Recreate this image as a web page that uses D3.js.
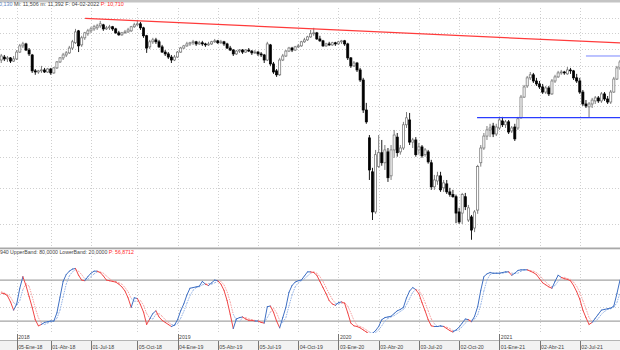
<!DOCTYPE html>
<html>
<head>
<meta charset="utf-8">
<script src="https://cdn.jsdelivr.net/npm/d3@7"></script>
<style>
body { margin: 0; background: #fff; }
svg { display: block; font-family: "Liberation Sans", Arial, sans-serif; }
</style>
</head>
<body>
<svg id="chart" width="620" height="350"></svg>
<script>
// weekly candles, first one is 5 weeks before 05-Ene-18
const opens = [11.35,11.52,11.41,11.47,11.29, 11.41,11.81,12.18,12.30,11.93, 11.64,10.75,10.69,10.75,10.80, 10.69,10.85,10.64,10.91,11.24,
  11.47,11.64,11.76,12.05,12.37, 13.13,12.24,12.68,12.94,13.13, 13.26,13.33,13.46,13.53,13.26, 13.33,13.40,13.26,13.00,12.87,
  13.00,13.06,13.13,13.40,13.53, 13.60,13.33,12.81,12.12,12.43, 12.55,12.43,12.12,11.81,11.70, 11.52,11.35,11.52,11.81,12.05,
  12.18,12.30,12.37,12.43,12.30, 12.37,12.30,12.24,12.30,12.43, 12.49,12.37,12.43,12.30,12.05, 11.93,11.70,11.87,11.93,11.81,
  11.93,11.87,11.76,11.81,11.70, 11.64,11.35,12.24,11.13,10.75, 10.54,11.35,11.58,11.87,12.05, 11.93,12.12,12.18,12.43,12.55,
  12.74,12.94,13.00,12.61,12.49, 12.18,12.30,12.24,12.37,12.30, 12.43,12.49,12.30,11.47,11.02, 11.18,10.80,10.27,8.84,7.69,
  6.49,5.31,6.66,7.14,6.79, 7.17,6.36,7.24,7.72,7.17, 7.31,8.21,8.41,7.53,7.61, 7.24,7.35,7.07,7.17,6.79,
  6.02,6.20,6.36,5.99,6.11, 5.87,5.79,5.73,5.31,5.28, 5.73,5.10,5.18,4.90,5.36, 6.79,7.31,7.76,8.00,8.16,
  7.84,8.08,8.37,8.21,8.33, 7.96,8.12,8.08,8.50,9.43, 9.97,10.38,10.54,10.22,10.07, 9.92,9.67,9.87,9.58,10.22,
  10.43,10.64,10.69,10.59,10.80, 10.75,10.38,10.22,9.67,9.11, 8.98,9.11,9.25,9.39,9.25, 9.58,9.34,9.20,9.67,10.32,
  10.91];
const highs = [11.70,11.64,11.58,11.52,11.58, 11.93,12.30,12.43,12.37,12.05, 11.70,10.85,10.80,11.02,10.91, 10.91,10.91,10.96,11.29,11.52,
  11.76,11.87,12.18,12.55,13.26, 13.19,12.81,13.06,13.26,13.40, 13.53,13.60,13.80,13.60,13.46, 13.53,13.46,13.33,13.13,13.06,
  13.19,13.33,13.46,13.67,13.87, 13.73,13.40,12.87,12.55,12.68, 12.68,12.55,12.24,11.93,11.81, 11.64,11.64,11.87,12.12,12.24,
  12.43,12.43,12.55,12.49,12.49, 12.49,12.37,12.43,12.49,12.61, 12.55,12.55,12.49,12.37,12.18, 11.99,11.93,11.99,11.99,11.99,
  12.05,11.93,11.93,11.87,11.81, 11.70,12.43,12.30,11.24,10.85, 11.47,11.70,11.93,12.12,12.12, 12.18,12.30,12.49,12.68,12.81,
  13.19,13.33,13.06,12.81,12.55, 12.37,12.43,12.43,12.43,12.49, 12.55,12.55,12.37,11.52,11.29, 11.24,10.91,10.38,9.16,7.80,
  6.62,7.24,7.80,7.61,7.42, 7.31,7.42,8.00,7.88,7.42, 8.33,8.75,8.71,7.69,7.72, 7.50,7.42,7.31,7.24,6.89,
  6.39,6.49,6.49,6.23,6.23, 5.99,5.93,5.79,5.42,5.84, 5.84,5.50,5.23,5.36,6.72, 7.42,7.88,8.16,8.25,8.29,
  8.25,8.54,8.54,8.41,8.41, 8.16,8.25,8.54,9.53,10.02, 10.48,10.69,10.64,10.38,10.22, 10.07,9.97,9.97,10.32,10.54,
  10.75,10.80,10.75,10.96,10.91, 10.80,10.59,10.38,9.77,9.29, 9.20,9.39,9.48,9.48,9.67, 9.67,9.48,9.77,10.43,11.02,
  11.35];
const lows = [11.18,11.29,11.24,11.18,11.24, 11.35,11.76,12.05,11.87,11.58, 10.64,10.54,10.59,10.64,10.64, 10.64,10.54,10.59,10.85,11.18,
  11.35,11.52,11.70,11.93,12.30, 11.81,12.12,12.55,12.81,13.00, 13.13,13.19,13.33,13.13,13.19, 13.19,13.13,12.94,12.81,12.81,
  12.94,13.00,13.06,13.33,13.46, 13.19,12.68,11.76,11.99,12.30, 12.30,12.05,11.76,11.58,11.41, 11.18,11.29,11.47,11.76,11.99,
  12.12,12.18,12.24,12.18,12.24, 12.18,12.12,12.18,12.24,12.37, 12.30,12.30,12.18,11.99,11.87, 11.58,11.64,11.76,11.70,11.76,
  11.81,11.64,11.70,11.58,11.52, 11.18,11.29,11.02,10.59,10.43, 10.48,11.29,11.52,11.81,11.81, 11.87,12.05,12.12,12.37,12.49,
  12.68,12.81,12.55,12.43,12.12, 12.12,12.18,12.18,12.18,12.24, 12.30,12.18,11.35,10.91,10.96, 10.69,10.17,8.71,8.25,6.23,
  5.10,5.26,6.62,6.69,6.55, 6.17,6.23,6.96,7.00,7.07, 7.24,8.08,7.42,7.31,7.00, 7.07,6.96,7.00,6.76,5.93,
  5.93,6.08,5.87,5.87,5.81, 5.73,5.70,5.02,5.00,5.00, 5.36,5.05,4.62,4.80,5.26, 6.66,7.24,7.61,7.72,7.72,
  7.76,8.00,8.12,8.08,7.84, 7.88,7.57,8.00,8.46,9.39, 9.87,10.27,10.12,9.97,9.82, 9.58,9.58,9.48,9.53,10.12,
  10.38,10.54,10.54,10.54,10.59, 10.27,10.12,9.58,9.02,8.93, 8.50,8.93,9.11,9.16,9.16, 9.25,9.11,9.11,9.63,10.27,
  10.80];
const closes = [11.58,11.41,11.47,11.29,11.41, 11.81,12.18,12.30,11.93,11.70, 10.75,10.69,10.75,10.80,10.69, 10.85,10.64,10.91,11.24,11.47,
  11.64,11.76,12.05,12.43,13.06, 12.18,12.68,13.00,13.13,13.26, 13.40,13.46,13.60,13.26,13.33, 13.40,13.26,13.00,12.87,13.00,
  13.06,13.19,13.40,13.53,13.60, 13.33,12.81,12.05,12.43,12.55, 12.43,12.12,11.81,11.70,11.52, 11.35,11.52,11.81,12.05,12.18,
  12.30,12.37,12.43,12.30,12.37, 12.30,12.24,12.30,12.43,12.49, 12.37,12.43,12.30,12.05,11.93, 11.70,11.87,11.93,11.81,11.93,
  11.87,11.76,11.81,11.70,11.64, 11.35,12.30,11.13,10.69,10.54, 11.35,11.58,11.87,12.05,11.93, 12.12,12.18,12.43,12.55,12.74,
  12.94,13.00,12.61,12.49,12.18, 12.30,12.24,12.37,12.30,12.43, 12.49,12.30,11.47,11.02,11.18, 10.80,10.27,8.84,8.33,6.55,
  5.31,7.07,7.14,6.79,7.24, 6.30,7.24,7.80,7.14,7.31, 8.21,8.50,7.53,7.61,7.07, 7.35,7.03,7.24,6.82,6.02,
  6.23,6.36,5.93,6.14,5.87, 5.79,5.73,5.28,5.05,5.79, 5.45,5.42,4.85,5.31,6.66, 7.31,7.76,8.00,8.08,7.84,
  8.12,8.41,8.21,8.33,7.92, 8.08,7.65,8.46,9.43,9.92, 10.38,10.54,10.22,10.07,9.92, 9.67,9.87,9.58,10.22,10.43,
  10.64,10.69,10.64,10.80,10.75, 10.38,10.22,9.67,9.11,9.02, 9.11,9.29,9.39,9.25,9.58, 9.34,9.20,9.67,10.32,10.91,
  11.24];

// stochastic %K and %D, one value per candle
const stochK = [61,60,57,48,36, 45,68,85,72,56, 40,22,13,15,18, 19,20,20,32,55, 78,88,93,96,97, 87,80,79,85,90,
  93,93,91,86,80, 79,78,77,74,70, 64,54,40,54,53, 44,33,15,23,31, 35,26,21,18,15, 12,14,22,35,45,
  58,68,69,70,71, 78,74,72,76,80, 79,74,65,50,30, 9,23,25,26,23, 21,21,20,20,18, 17,41,42,33,20,
  10,25,40,62,72, 77,79,80,86,92, 92,91,87,78,69, 60,50,45,43,47, 48,46,32,17,13, 12,10,7,4,1,
  2,6,12,22,25, 26,27,31,35,37, 40,54,64,69,66, 60,47,35,22,13, 12,12,13,12,9, 6,4,7,11,17,
  23,22,19,27,41, 65,85,89,91,90, 90,90,91,92,92, 87,90,94,95,95, 95,93,91,88,82, 76,73,70,68,78,
  87,84,82,81,79, 72,63,52,36,25, 15,18,24,30,36, 37,38,39,42,60, 80];
const stochD = [63,61,59,55,47, 43,50,66,75,71, 56,39,25,17,15, 17,19,20,24,36, 55,74,86,92,95, 93,88,82,81,85,
  89,92,92,90,86, 82,79,78,76,74, 69,63,53,49,49, 50,43,31,24,23, 30,31,27,22,18, 15,14,16,24,34,
  46,57,65,69,70, 73,74,75,74,76, 78,78,73,63,48, 30,21,19,25,25, 23,22,21,20,19, 18,25,33,39,32,
  21,18,25,42,58, 70,76,79,82,86, 90,92,90,85,78, 69,60,52,46,45, 46,47,42,32,21, 14,12,10,7,4,
  2,3,7,13,20, 24,26,28,31,34, 37,44,53,62,66, 65,58,47,35,23, 16,12,12,12,11, 9,6,6,7,12,
  17,21,21,23,29, 44,64,80,88,90, 90,90,90,91,92, 90,90,90,93,95, 95,94,93,91,87, 82,77,73,70,72,
  78,83,84,82,81, 77,71,62,50,38, 25,19,19,24,30, 34,37,38,40,47, 61];

// axis
const tickIdx = [5,16,29,44,57,70,83,96,109,122,135,148,161,174,187];
const tickLabels = ["05-Ene-18","01-Abr-18","01-Jul-18","05-Oct-18","04-Ene-19","05-Abr-19","05-Jul-19","04-Oct-19",
  "03-Ene-20","03-Abr-20","03-Jul-20","02-Oct-20","01-Ene-21","02-Abr-21","02-Jul-21"];
const yearIdx = [5,57,109,161];
const yearLabels = ["2018","2019","2020","2021"];
const gridPrices = [5,6,7,8,9,10,11,12,13,14];
const stochBands = [20,80];
const stochGrid = [40,60];

// drawn lines: [candle index, price]
const redTrend = [[27.1,13.98],[200,12.36]];
const blueSupport = [[153.8,8.51],[200,8.51]];
const blueTop = [[189,11.58],[200,11.58]];

const svg = d3.select('#chart');
const x = d3.scaleLinear().domain([-0.4, 200]).range([0, 620]);
const y = d3.scaleLog().domain([4.434, 14.72]).range([248, 8]);
const ys = d3.scaleLinear().domain([0, 100]).range([334.7, 266.4]);

const defs = svg.append('defs');
defs.append('clipPath').attr('id', 'clipMain')
    .append('rect').attr('x', 0).attr('y', 8).attr('width', 620).attr('height', 239);
defs.append('clipPath').attr('id', 'clipStoch')
    .append('rect').attr('x', 0).attr('y', 255).attr('width', 620).attr('height', 78);

// header
svg.append('rect').attr('x', 0).attr('y', 0).attr('width', 620).attr('height', 2.5).attr('fill', '#c4c4c4');
const head = svg.append('text').attr('x', -1).attr('y', 6.4).style('font-size', '5.4px').attr('fill', '#444');
head.append('tspan').attr('fill', '#5b7fc0').text('0,130 ');
head.append('tspan').text('Mi: 11,506 m: 11,392 F: 04-02-2022 ');
head.append('tspan').attr('fill', '#ff2a2a').text('P: 10,710');

// main grid
const gMain = svg.append('g');
gMain.selectAll('.hgrid')
    .data(gridPrices)
    .enter()
    .append('line')
    .attr('x1', 0).attr('x2', 620)
    .attr('y1', d => Math.round(y(d)) + 0.5).attr('y2', d => Math.round(y(d)) + 0.5)
    .attr('stroke', '#cfcfcf').attr('stroke-dasharray', '1,2');
gMain.selectAll('.vgrid')
    .data(tickIdx)
    .enter()
    .append('line')
    .attr('x1', d => Math.round(x(d)) + 0.5).attr('x2', d => Math.round(x(d)) + 0.5)
    .attr('y1', 8).attr('y2', 247)
    .attr('stroke', '#cfcfcf').attr('stroke-dasharray', '1,2');

// candles
const candles = opens.map((o, j) => ({ j: j, o: o, h: highs[j], l: lows[j], c: closes[j] }));
const gc = svg.append('g').attr('clip-path', 'url(#clipMain)');
gc.selectAll('.wick')
    .data(candles)
    .enter()
    .append('line')
    .attr('x1', d => x(d.j)).attr('x2', d => x(d.j))
    .attr('y1', d => y(d.h)).attr('y2', d => y(d.l))
    .attr('stroke', d => d.c >= d.o ? '#6e6e6e' : '#000')
    .attr('stroke-width', 0.9);
gc.selectAll('.body')
    .data(candles)
    .enter()
    .append('rect')
    .attr('x', d => x(d.j) - 1.05)
    .attr('width', 2.1)
    .attr('y', d => y(Math.max(d.o, d.c)))
    .attr('height', d => Math.max(0.8, Math.abs(y(d.o) - y(d.c))))
    .attr('fill', d => d.c >= d.o ? '#fff' : '#000')
    .attr('stroke', d => d.c >= d.o ? '#6e6e6e' : '#000')
    .attr('stroke-width', 0.7);

// trend lines
const priceLine = d3.line().x(d => x(d[0])).y(d => y(d[1]));
gc.append('path').attr('d', priceLine(redTrend)).attr('fill', 'none').attr('stroke', '#ff3b3b').attr('stroke-width', 1.3);
gc.append('path').attr('d', priceLine(blueSupport)).attr('fill', 'none').attr('stroke', '#2a3cff').attr('stroke-width', 1.4);
gc.append('path').attr('d', priceLine(blueTop)).attr('fill', 'none').attr('stroke', '#7a86ff').attr('stroke-width', 1);

// separator + indicator title
svg.append('rect').attr('x', 0).attr('y', 247.5).attr('width', 620).attr('height', 1.8).attr('fill', '#a8a8a8');
const st = svg.append('text').attr('x', 0).attr('y', 254).style('font-size', '5.2px').attr('fill', '#444');
st.append('tspan').text('940 UpperBand: 80,0000 LowerBand: 20,0000 ');
st.append('tspan').attr('fill', '#ff2a2a').text('P: 56,8712');

// stochastic panel
const gs = svg.append('g');
gs.selectAll('.sgrid')
    .data(stochGrid)
    .enter()
    .append('line')
    .attr('x1', 0).attr('x2', 620)
    .attr('y1', d => Math.round(ys(d)) + 0.5).attr('y2', d => Math.round(ys(d)) + 0.5)
    .attr('stroke', '#cfcfcf').attr('stroke-dasharray', '1,2');
gs.selectAll('.svgrid')
    .data(tickIdx)
    .enter()
    .append('line')
    .attr('x1', d => Math.round(x(d)) + 0.5).attr('x2', d => Math.round(x(d)) + 0.5)
    .attr('y1', 256).attr('y2', 333)
    .attr('stroke', '#cfcfcf').attr('stroke-dasharray', '1,2');
gs.selectAll('.band')
    .data(stochBands)
    .enter()
    .append('line')
    .attr('x1', 0).attr('x2', 620)
    .attr('y1', d => ys(d)).attr('y2', d => ys(d))
    .attr('stroke', '#a4a4a4').attr('stroke-width', 1.2);

const segs = d3.range(stochK.length - 1).map(j => ({ j: j, up: stochK[j + 1] >= stochD[j + 1] }));
const gl = svg.append('g').attr('clip-path', 'url(#clipStoch)');
gl.selectAll('.dseg')
    .data(segs)
    .enter()
    .append('line')
    .attr('x1', d => x(d.j)).attr('x2', d => x(d.j + 1))
    .attr('y1', d => ys(stochD[d.j])).attr('y2', d => ys(stochD[d.j + 1]))
    .attr('stroke', d => d.up ? '#93b2e6' : '#f6a2a2')
    .attr('stroke-width', 1)
    .attr('stroke-dasharray', '1.5,1');
gl.selectAll('.kseg')
    .data(segs)
    .enter()
    .append('line')
    .attr('x1', d => x(d.j)).attr('x2', d => x(d.j + 1))
    .attr('y1', d => ys(stochK[d.j])).attr('y2', d => ys(stochK[d.j + 1]))
    .attr('stroke', d => d.up ? '#3f70c4' : '#f04646')
    .attr('stroke-width', 1)
    .attr('stroke-linecap', 'round');

// date axis
const ga = svg.append('g');
ga.append('rect').attr('x', 0).attr('y', 341).attr('width', 620).attr('height', 9).attr('fill', '#f2f2f2');
ga.append('line').attr('x1', 0).attr('x2', 620).attr('y1', 340.5).attr('y2', 340.5).attr('stroke', '#b4b4b4');
ga.selectAll('.tick')
    .data(tickIdx)
    .enter()
    .append('line')
    .attr('x1', d => Math.round(x(d)) + 0.5).attr('x2', d => Math.round(x(d)) + 0.5)
    .attr('y1', 341).attr('y2', 350)
    .attr('stroke', '#777');
ga.selectAll('.tlabel')
    .data(tickIdx)
    .enter()
    .append('text')
    .attr('x', d => x(d) + 1.5)
    .attr('y', 348.5)
    .style('font-size', '5.2px')
    .attr('fill', '#444')
    .text((d, k) => tickLabels[k]);
ga.selectAll('.ytick')
    .data(yearIdx)
    .enter()
    .append('line')
    .attr('x1', d => Math.round(x(d)) + 0.5).attr('x2', d => Math.round(x(d)) + 0.5)
    .attr('y1', 334).attr('y2', 341)
    .attr('stroke', '#777');
ga.selectAll('.ylabel')
    .data(yearIdx)
    .enter()
    .append('text')
    .attr('x', d => x(d) + 1.5)
    .attr('y', 339)
    .style('font-size', '5.2px')
    .attr('fill', '#444')
    .text((d, k) => yearLabels[k]);
</script>
</body>
</html>
